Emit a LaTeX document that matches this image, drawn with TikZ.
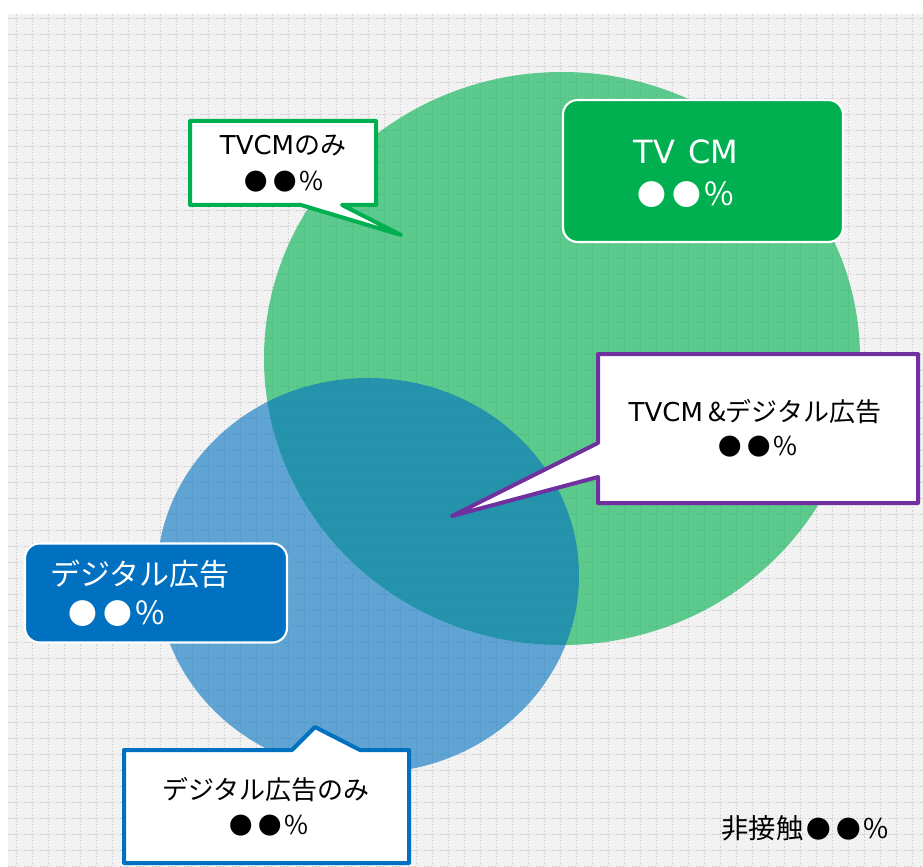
\documentclass[tikz,border=0pt]{standalone}
\usepackage{fontspec}
\usepackage{graphicx}
\setmainfont{Noto Sans CJK JP}
\newfontfamily\latfont{DejaVu Sans}
\newcommand\dotsym{\scalebox{0.9}{●}}
\newcommand\pctdots{\dotsym\hspace{0.2em}\dotsym\hspace{0.1em}\%}
\definecolor{bggray}{HTML}{F2F2F2}
\definecolor{gridgray}{HTML}{CFCFCF}
\definecolor{tvgreen}{HTML}{00B050}
\definecolor{digblue}{HTML}{0070C0}
\definecolor{mixpurple}{HTML}{7030A0}
\tikzset{
  gridline/.style={gridgray, line width=0.6pt, dash pattern=on 1.2pt off 1.2pt},
  calloutgreen/.style={draw=tvgreen, line width=3pt, fill=white, line join=round},
  calloutpurple/.style={draw=mixpurple, line width=3pt, fill=white, line join=round},
  calloutblue/.style={draw=digblue, line width=3pt, fill=white, line join=round},
  labelbox/.style={rounded corners=11pt, draw=white, line width=1.6pt, inner sep=0pt},
  blacktxt/.style={text=black, font=\fontsize{19.5}{22}\selectfont, inner sep=0pt},
  whitetxt/.style={text=white, font=\fontsize{24}{28}\selectfont, inner sep=0pt},
}
\begin{document}
\begin{tikzpicture}[x=0.75pt, y=-0.75pt]
\useasboundingbox (0,0) rectangle (923,866);
\fill[white] (0,0) rectangle (923,866);
\fill[bggray] (8,14) rectangle (923,866);
% grid
\foreach \gx in {16.5,32.5,...,923} { \draw[gridline] (\gx,14) -- (\gx,866); }
\foreach \gy in {18,34,...,866} { \draw[gridline] (8,\gy) -- (923,\gy); }
% circles
\fill[tvgreen, opacity=0.62] (562,358.5) ellipse [x radius=298, y radius=286.5];
\fill[digblue, opacity=0.6] (368,575.5) ellipse [x radius=211, y radius=197.5];

% TV CM box
\node[labelbox, fill=tvgreen, minimum width=280*0.75pt, minimum height=142*0.75pt] (tvbox) at (703,171) {};
\node[whitetxt] (tvt1) at (686,152) {\latfont TV\hspace{0.4em}CM};
\node[whitetxt] (tvt2) at (686,195) {\pctdots};

% TVCM only callout
\coordinate (gtip) at (401,235);
\draw[calloutgreen] (190,121) -- (376,121) -- (376,205) -- (342,205) -- (gtip) -- (301,205) -- (190,205) -- cycle;
\node[blacktxt] (g1) at (283,146) {{\latfont TVCM}のみ};
\node[blacktxt] (g2) at (284,182) {\pctdots};

% purple callout
\coordinate (ptip) at (452,516);
\draw[calloutpurple] (598,354) -- (918,354) -- (918,503) -- (598,503) -- (598,477) -- (ptip) -- (598,443) -- cycle;
\node[blacktxt] (p1) at (755,412) {{\latfont TVCM}\hspace{0.2em}\&デジタル広告};
\node[blacktxt] (p2) at (758,447) {\pctdots};

% digital box
\node[labelbox, fill=digblue, minimum width=262*0.75pt, minimum height=99*0.75pt] (digbox) at (156,593) {};
\node[whitetxt, font=\fontsize{22.5}{26}\selectfont, anchor=west] (d1) at (50,574) {デジタル広告};
\node[whitetxt, anchor=west] (d2) at (68,614) {\pctdots};

% digital only callout
\coordinate (btip) at (315,727);
\draw[calloutblue] (124,750) -- (292,750) -- (btip) -- (360,750) -- (409,750) -- (409,863) -- (124,863) -- cycle;
\node[blacktxt] (b1) at (266,790) {デジタル広告のみ};
\node[blacktxt] (b2) at (269,826) {\pctdots};

% non-contact
\node[blacktxt, font=\fontsize{20.5}{23}\selectfont] (nc) at (805,828) {非接触\hspace{0.1em}\pctdots};
\end{tikzpicture}
\end{document}
